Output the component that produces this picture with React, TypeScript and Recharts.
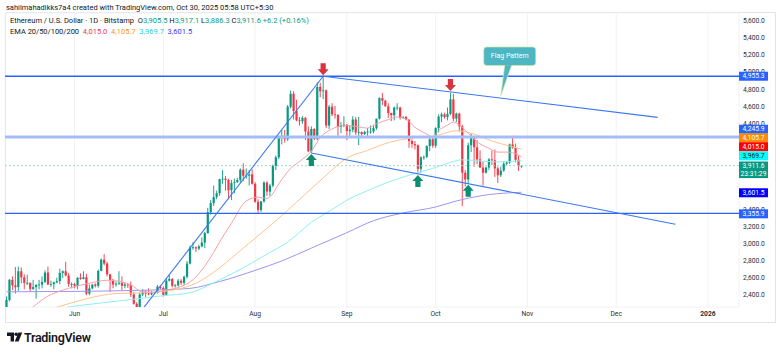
import React from 'react';
import { ComposedChart, Bar, Line, XAxis, YAxis, CartesianGrid, ReferenceLine, ReferenceDot } from 'recharts';

type Ohlc = [number, number, number, number];

// daily candles [open, high, low, close], ETH/USD Bitstamp
const may: Ohlc[] = [
  [2205, 2385, 2150, 2345], [2345, 2590, 2330, 2580], [2580, 2620, 2460, 2515], [2515, 2730, 2420, 2495],
  [2495, 2735, 2450, 2680], [2680, 2725, 2540, 2610], [2610, 2645, 2470, 2545], [2545, 2640, 2520, 2545],
  [2545, 2550, 2440, 2475], [2475, 2580, 2460, 2495], [2495, 2530, 2360, 2520], [2520, 2580, 2470, 2525],
  [2525, 2620, 2480, 2555], [2555, 2690, 2545, 2665], [2665, 2735, 2520, 2525], [2525, 2570, 2500, 2530],
  [2530, 2560, 2470, 2550], [2550, 2605, 2540, 2565], [2565, 2710, 2530, 2660], [2660, 2690, 2600, 2680],
  [2680, 2790, 2620, 2630], [2630, 2660, 2500, 2530], [2530, 2550, 2480, 2530],
];
const jun: Ohlc[] = [
  [2530, 2545, 2480, 2510], [2510, 2610, 2470, 2605], [2605, 2655, 2580, 2590], [2590, 2680, 2585, 2610],
  [2610, 2650, 2400, 2420], [2420, 2525, 2400, 2480], [2480, 2530, 2470, 2525], [2525, 2540, 2490, 2510],
  [2510, 2700, 2490, 2685], [2685, 2830, 2680, 2815], [2815, 2880, 2750, 2770], [2770, 2790, 2620, 2645],
  [2645, 2650, 2440, 2580], [2580, 2590, 2480, 2525], [2525, 2560, 2500, 2535], [2535, 2680, 2520, 2545],
  [2545, 2620, 2460, 2510], [2510, 2550, 2480, 2525], [2525, 2540, 2485, 2520], [2520, 2560, 2380, 2410],
  [2410, 2440, 2290, 2300], [2300, 2320, 2110, 2230], [2230, 2430, 2210, 2410], [2410, 2470, 2390, 2440],
  [2440, 2460, 2380, 2420], [2420, 2480, 2400, 2410], [2410, 2450, 2400, 2425], [2425, 2440, 2410, 2435],
  [2435, 2520, 2420, 2500], [2500, 2520, 2470, 2485],
];
const jul: Ohlc[] = [
  [2485, 2505, 2385, 2405], [2405, 2600, 2395, 2570], [2570, 2640, 2560, 2590], [2590, 2600, 2490, 2510],
  [2510, 2530, 2490, 2515], [2515, 2590, 2500, 2570], [2570, 2590, 2520, 2545], [2545, 2630, 2520, 2615],
  [2615, 2800, 2595, 2770], [2770, 2980, 2760, 2955], [2955, 3020, 2930, 2960], [2960, 2970, 2905, 2945],
  [2945, 2990, 2925, 2970], [2970, 3075, 2960, 3015], [3015, 3140, 2950, 3125], [3125, 3420, 3120, 3370],
  [3370, 3510, 3340, 3475], [3475, 3680, 3440, 3545], [3545, 3620, 3520, 3590], [3590, 3760, 3560, 3755],
  [3755, 3860, 3700, 3760], [3760, 3790, 3620, 3745], [3745, 3760, 3520, 3625], [3625, 3745, 3510, 3710],
  [3710, 3760, 3590, 3720], [3720, 3770, 3710, 3745], [3745, 3880, 3710, 3865], [3865, 3940, 3730, 3795],
  [3795, 3880, 3760, 3795], [3795, 3860, 3680, 3810], [3810, 3870, 3690, 3700],
];
const aug: Ohlc[] = [
  [3700, 3720, 3480, 3490], [3490, 3520, 3355, 3395], [3395, 3500, 3370, 3495], [3495, 3730, 3480, 3715],
  [3715, 3730, 3560, 3610], [3610, 3700, 3560, 3680], [3680, 3925, 3660, 3910], [3910, 4030, 3860, 4010],
  [4010, 4260, 3990, 4255], [4255, 4330, 4160, 4260], [4260, 4330, 4180, 4220], [4220, 4620, 4200, 4600],
  [4600, 4790, 4580, 4750], [4750, 4780, 4450, 4550], [4550, 4680, 4430, 4440], [4440, 4480, 4380, 4430],
  [4430, 4490, 4400, 4470], [4470, 4480, 4210, 4310], [4310, 4370, 4070, 4080], [4080, 4370, 4060, 4340],
  [4340, 4350, 4210, 4225], [4225, 4885, 4210, 4830], [4830, 4880, 4710, 4780], [4780, 4955, 4690, 4790],
  [4790, 4800, 4350, 4380], [4380, 4620, 4340, 4600], [4600, 4640, 4490, 4510], [4510, 4610, 4460, 4505],
  [4505, 4510, 4260, 4365], [4365, 4420, 4290, 4375], [4375, 4490, 4360, 4390],
];
const sep: Ohlc[] = [
  [4390, 4400, 4210, 4315], [4315, 4380, 4260, 4330], [4330, 4490, 4300, 4450], [4450, 4480, 4270, 4300],
  [4300, 4480, 4150, 4305], [4305, 4310, 4260, 4280], [4280, 4320, 4270, 4305], [4305, 4350, 4250, 4310],
  [4310, 4380, 4285, 4310], [4310, 4390, 4290, 4350], [4350, 4460, 4330, 4460], [4460, 4710, 4450, 4700],
  [4700, 4760, 4620, 4670], [4670, 4680, 4600, 4605], [4605, 4640, 4470, 4525], [4525, 4530, 4430, 4500],
  [4500, 4600, 4440, 4590], [4590, 4640, 4560, 4590], [4590, 4600, 4450, 4470], [4470, 4490, 4460, 4480],
  [4480, 4490, 4440, 4450], [4450, 4450, 4120, 4200], [4200, 4220, 4120, 4165], [4165, 4200, 4100, 4150],
  [4150, 4160, 3820, 3875], [3875, 4020, 3830, 4010], [4010, 4030, 3980, 4015], [4015, 4150, 4000, 4140],
  [4140, 4240, 4080, 4220], [4220, 4240, 4120, 4145],
];
const oct: Ohlc[] = [
  [4145, 4360, 4120, 4350], [4350, 4510, 4300, 4485], [4485, 4530, 4420, 4510], [4510, 4530, 4460, 4480],
  [4480, 4590, 4440, 4515], [4515, 4760, 4500, 4685], [4685, 4750, 4430, 4460], [4460, 4530, 4420, 4520],
  [4520, 4530, 4310, 4370], [4370, 4390, 3440, 3830], [3830, 3860, 3670, 3750], [3750, 4180, 3700, 4150],
  [4150, 4290, 4070, 4245], [4245, 4250, 3900, 4125], [4125, 4210, 3930, 3985], [3985, 4090, 3890, 3890],
  [3890, 3960, 3680, 3830], [3830, 3900, 3820, 3890], [3890, 4000, 3860, 3985], [3985, 4090, 3920, 3975],
  [3975, 4100, 3780, 3880], [3880, 3900, 3710, 3800], [3800, 3900, 3780, 3855], [3855, 3960, 3840, 3935],
  [3935, 3960, 3910, 3950], [3950, 4170, 3930, 4160], [4160, 4260, 4110, 4120], [4120, 4170, 3950, 3980],
  [3980, 4030, 3850, 3905], [3905.5, 3917.1, 3886.3, 3911.6],
];

// EMA values at a few dates
const ema20Pts: [string, number][] = [
  ['05-12', 2080], ['05-18', 2265], ['05-23', 2390], ['05-28', 2460], ['06-01', 2500], ['06-06', 2540],
  ['06-12', 2575], ['06-17', 2555], ['06-20', 2520], ['06-24', 2440], ['06-28', 2435], ['07-02', 2460],
  ['07-06', 2490], ['07-11', 2580], ['07-15', 2740], ['07-18', 2900], ['07-21', 3080], ['07-24', 3240],
  ['07-29', 3500], ['08-02', 3545], ['08-05', 3530], ['08-10', 3750], ['08-13', 3880], ['08-16', 3960],
  ['08-20', 4080], ['08-23', 4240], ['08-27', 4340], ['08-31', 4380], ['09-04', 4370], ['09-08', 4350],
  ['09-11', 4400], ['09-15', 4450], ['09-18', 4480], ['09-21', 4455], ['09-24', 4360], ['09-28', 4280],
  ['09-30', 4245], ['10-02', 4320], ['10-05', 4385], ['10-07', 4420], ['10-09', 4385], ['10-12', 4290],
  ['10-15', 4190], ['10-19', 4115], ['10-22', 4070], ['10-25', 4070], ['10-29', 4035], ['10-30', 4015.0],
];
const ema50Pts: [string, number][] = [
  ['05-09', 2050], ['05-18', 2180], ['05-27', 2270], ['06-05', 2360], ['06-15', 2420], ['06-25', 2430],
  ['07-05', 2465], ['07-12', 2540], ['07-20', 2720], ['07-28', 2950], ['08-05', 3180], ['08-12', 3390],
  ['08-18', 3580], ['08-25', 3800], ['09-01', 4000], ['09-08', 4090], ['09-15', 4180], ['09-22', 4230],
  ['10-01', 4260], ['10-08', 4320], ['10-14', 4280], ['10-20', 4200], ['10-25', 4150], ['10-30', 4105.7],
];
const ema100Pts: [string, number][] = [
  ['05-20', 2200], ['05-30', 2263], ['06-10', 2310], ['06-20', 2350], ['07-01', 2395], ['07-10', 2430],
  ['07-20', 2580], ['07-28', 2720], ['08-05', 2880], ['08-12', 3020], ['08-20', 3250], ['08-27', 3400],
  ['09-01', 3510], ['09-08', 3620], ['09-15', 3720], ['09-22', 3800], ['09-30', 3880], ['10-06', 3950],
  ['10-10', 3980], ['10-15', 3970], ['10-22', 3955], ['10-30', 3969.7],
];
const ema200Pts: [string, number][] = [
  ['05-09', 2440], ['06-01', 2445], ['06-20', 2455], ['07-01', 2465], ['07-10', 2480], ['07-20', 2560],
  ['08-01', 2690], ['08-10', 2800], ['08-20', 2950], ['09-01', 3130], ['09-10', 3270], ['09-20', 3360],
  ['10-01', 3430], ['10-08', 3500], ['10-17', 3565], ['10-26', 3595], ['10-30', 3601.5],
];

const monthTicks = ['06-01', '07-01', '08-01', '09-01', '10-01', '11-01', '12-01', '2026-01-01'];
const monthLabels = ['Jun', 'Jul', 'Aug', 'Sep', 'Oct', 'Nov', 'Dec', '2026'];
const gridPrices = [2400, 2600, 2800, 3000, 3200, 3400, 3600, 3800, 4000, 4200, 4400, 4600, 4800, 5000, 5200, 5400, 5600];
// price labels the tags leave (partly) visible
const priceLabels = [2400, 2600, 2800, 3000, 3200, 3400, 4400, 4600, 4800, 5000, 5200, 5400, 5600];

const resistance = 4955.3;
const midLevel = 4245.9;
const support = 3355.9;
const lastPrice = 3911.6;
const emaLast = [4015.0, 4105.7, 3969.7, 3601.5];

// drawings: rising trendline, flag upper / lower line
const risingLine: [string, number][] = [['06-22', 2150], ['08-24', 4955.3]];
const flagTop: [string, number][] = [['08-24', 4955.3], ['12-15', 4475]];
const flagBottom: [string, number][] = [['08-20', 4060], ['12-21', 3228]];
const peakMarks: [string, number][] = [['08-24', 4955.3], ['10-06', 4772]];
const lowMarks: [string, number][] = [['08-20', 4060], ['09-25', 3816], ['10-12', 3702]];
const calloutAt: [string, number] = ['10-23', 4725];

const START = Date.UTC(2025, 4, 9);
const DAYS = 248;
const idx = (d: string) =>
  Math.round((Date.parse(d.length === 5 ? `2025-${d}T00:00:00Z` : `${d}T00:00:00Z`) - START) / 864e5);

const candles = [...may, ...jun, ...jul, ...aug, ...sep, ...oct];
const toMap = (pts: [string, number][]) => new Map(pts.map(([d, v]) => [idx(d), v]));
const m20 = toMap(ema20Pts);
const m50 = toMap(ema50Pts);
const m100 = toMap(ema100Pts);
const m200 = toMap(ema200Pts);

const rows = Array.from({ length: DAYS }, (_, i) => {
  const k = candles[i];
  return {
    i,
    range: k ? [k[2], k[1]] : null,
    o: k ? k[0] : null,
    h: k ? k[1] : null,
    l: k ? k[2] : null,
    c: k ? k[3] : null,
    e20: m20.get(i) ?? null,
    e50: m50.get(i) ?? null,
    e100: m100.get(i) ?? null,
    e200: m200.get(i) ?? null,
  };
});

const UP = '#089981';
const DOWN = '#f23645';
const FONT = 'Roboto, "Noto Sans", sans-serif';
const AXIS_TXT = '#2a2e39';

const Candle = (props: any) => {
  const { x, y, width, height, payload } = props;
  if (!payload || payload.o == null || !isFinite(y)) return null;
  const { o, h, l, c } = payload;
  const color = c >= o ? UP : DOWN;
  const k = h === l ? 0 : height / (h - l);
  const cx = x + width / 2;
  const top = y + (h - Math.max(o, c)) * k;
  const bot = y + (h - Math.min(o, c)) * k;
  return (
    <g>
      <line x1={cx} x2={cx} y1={y} y2={y + height} stroke={color} strokeWidth={0.9} />
      <rect x={cx - 1.1} y={top} width={2.2} height={Math.max(bot - top, 0.8)} fill={color} />
    </g>
  );
};

const AxisText = (props: any) => {
  const { viewBox, text } = props;
  if (!viewBox) return null;
  return (
    <text x={viewBox.x + viewBox.width + 4} y={viewBox.y} dominantBaseline="central" fontFamily={FONT}
      fontSize={6.7} fill={AXIS_TXT}>
      {text}
    </text>
  );
};

const Tag = (props: any) => {
  const { viewBox, text, sub, bg, color = '#fff', dy = 0 } = props;
  if (!viewBox) return null;
  const x = viewBox.x + viewBox.width;
  const y = viewBox.y + dy;
  const h = sub ? 16.6 : 9;
  return (
    <g fontFamily={FONT} fontSize={6.7}>
      <rect x={x} y={y - 4.5} width={29} height={h} fill={bg} />
      <text x={x + 14.5} y={y + 0.2} textAnchor="middle" dominantBaseline="central" fill={color}>{text}</text>
      {sub && (
        <text x={x + 14.5} y={y + 8.2} textAnchor="middle" dominantBaseline="central" fill={color}>{sub}</text>
      )}
    </g>
  );
};

const DownArrow = (props: any) => {
  const { cx, cy } = props;
  const t = cy - 1;
  return (
    <path
      d={`M${cx - 2.6},${t - 12} L${cx + 2.6},${t - 12} L${cx + 2.6},${t - 6} L${cx + 5.5},${t - 6} L${cx},${t} L${cx - 5.5},${t - 6} L${cx - 2.6},${t - 6} Z`}
      fill="#d9333f"
    />
  );
};

const UpArrow = (props: any) => {
  const { cx, cy } = props;
  const t = cy + 1;
  return (
    <path
      d={`M${cx - 2.6},${t + 12} L${cx + 2.6},${t + 12} L${cx + 2.6},${t + 6} L${cx + 5.5},${t + 6} L${cx},${t} L${cx - 5.5},${t + 6} L${cx - 2.6},${t + 6} Z`}
      fill="#0a8f74"
    />
  );
};

const Callout = (props: any) => {
  const { cx, cy } = props;
  return (
    <g fontFamily={FONT}>
      <path d={`M${cx + 4},${cy - 31} L${cx + 11},${cy - 31} L${cx},${cy} Z`} fill="#4cb6c2" stroke="#d4e9a6" strokeWidth={0.7} />
      <rect x={cx - 17} y={cy - 49} width={52} height={18.5} rx={3} fill="#4cb6c2" stroke="#d4e9a6" strokeWidth={0.7} />
      <rect x={cx + 4.4} y={cy - 31.6} width={6.2} height={1.4} fill="#4cb6c2" />
      <text x={cx + 9} y={cy - 39.7} textAnchor="middle" dominantBaseline="central" fontSize={7} fill="#fff">Flag Pattern</text>
    </g>
  );
};

const MonthTick = (props: any) => {
  const { x, y, payload } = props;
  const n = monthTicks.map(idx).indexOf(payload.value);
  const label = monthLabels[n] ?? '';
  return (
    <text x={x} y={y + 7} textAnchor="middle" dominantBaseline="central" fontFamily={FONT} fontSize={6.7}
      fontWeight={label === '2026' ? 700 : 400} fill={AXIS_TXT}>
      {label}
    </text>
  );
};

const fmt = (v: number) => v.toLocaleString('en-US', { minimumFractionDigits: 1, maximumFractionDigits: 1 });
const seg = (s: [string, number][]) => s.map(([d, v]) => ({ x: idx(d), y: v }));

export default function App() {
  const dark = '#131722';
  const textLine: React.CSSProperties = { position: 'absolute', fontSize: 7.5, color: dark, whiteSpace: 'nowrap', lineHeight: '10px' };
  return (
    <div style={{ position: 'absolute', left: 0, top: 0, width: 780, height: 354, background: '#fff', fontFamily: FONT, overflow: 'hidden' }}>
      <div style={{ position: 'absolute', left: 5, top: 12, width: 769, height: 309, border: '1px solid #e0e3eb' }} />
      <ComposedChart
        width={780}
        height={354}
        data={rows}
        margin={{ top: 13, right: 5, bottom: 32, left: 5 }}
        barCategoryGap={0}
        barGap={0}
        style={{ position: 'absolute', left: 0, top: 0 }}
      >
        <CartesianGrid stroke="#f0f2f6" strokeWidth={1} />
        <XAxis
          dataKey="i"
          ticks={monthTicks.map(idx)}
          interval={0}
          tick={<MonthTick />}
          axisLine={false}
          tickLine={false}
          tickSize={0}
          tickMargin={0}
          height={15}
        />
        <YAxis
          orientation="right"
          type="number"
          domain={[2263, 5693]}
          allowDataOverflow
          ticks={gridPrices}
          tick={false}
          axisLine={false}
          tickLine={false}
          width={36}
        />
        <Bar dataKey="range" shape={<Candle />} isAnimationActive={false} />
        <Line type="monotone" dataKey="e200" stroke="#9c95f2" strokeWidth={1} dot={false} activeDot={false} connectNulls isAnimationActive={false} />
        <Line type="monotone" dataKey="e100" stroke="#8ef0f0" strokeWidth={1} dot={false} activeDot={false} connectNulls isAnimationActive={false} />
        <Line type="monotone" dataKey="e50" stroke="#ffc48f" strokeWidth={1} dot={false} activeDot={false} connectNulls isAnimationActive={false} />
        <Line type="monotone" dataKey="e20" stroke="#f7a0a6" strokeWidth={1} dot={false} activeDot={false} connectNulls isAnimationActive={false} />

        {priceLabels.map((v) => (
          <ReferenceLine key={`t${v}`} y={v} stroke="none" label={<AxisText text={fmt(v)} />} />
        ))}

        <ReferenceLine y={lastPrice} stroke="#9fd8cb" strokeDasharray="2 2" strokeWidth={1}
          label={<Tag text={fmt(lastPrice)} sub="23:31:29" bg={UP} dy={0.3} />} />
        <ReferenceLine y={midLevel} stroke="#a4bdfa" strokeWidth={3}
          label={<Tag text={fmt(midLevel)} bg="#2962ff" dy={-7.8} />} />
        <ReferenceLine y={resistance} stroke="#2962ff" strokeWidth={1.3}
          label={<Tag text={fmt(resistance)} bg="#2962ff" dy={0} />} />
        <ReferenceLine y={support} stroke="#2962ff" strokeWidth={1.3}
          label={<Tag text={fmt(support)} bg="#2962ff" dy={0.5} />} />
        <ReferenceLine y={emaLast[1]} stroke="none" label={<Tag text={fmt(emaLast[1])} bg="#ff8a00" dy={-11.2} />} />
        <ReferenceLine y={emaLast[0]} stroke="none" label={<Tag text={fmt(emaLast[0])} bg="#ff0000" dy={-10.1} />} />
        <ReferenceLine y={emaLast[2]} stroke="none" label={<Tag text={fmt(emaLast[2])} bg="#00ffff" color={dark} dy={-4.9} />} />
        <ReferenceLine y={emaLast[3]} stroke="none" label={<Tag text={fmt(emaLast[3])} bg="#0000ff" dy={0.5} />} />

        <ReferenceLine segment={seg(risingLine)} stroke="#3b78f0" strokeWidth={1.1} ifOverflow="hidden" />
        <ReferenceLine segment={seg(flagTop)} stroke="#3b78f0" strokeWidth={1.1} ifOverflow="hidden" />
        <ReferenceLine segment={seg(flagBottom)} stroke="#3b78f0" strokeWidth={1.1} ifOverflow="hidden" />

        {peakMarks.map(([d, v]) => (
          <ReferenceDot key={`p${d}`} x={idx(d)} y={v} r={0} shape={<DownArrow />} />
        ))}
        {lowMarks.map(([d, v]) => (
          <ReferenceDot key={`l${d}`} x={idx(d)} y={v} r={0} shape={<UpArrow />} />
        ))}
        <ReferenceDot x={idx(calloutAt[0])} y={calloutAt[1]} r={0} shape={<Callout />} />
      </ComposedChart>

      <div style={{ ...textLine, left: 6, top: 2.5 }}>
        sahilmahadikks7a4 created with TradingView.com, Oct 30, 2025 05:58 UTC+5:30
      </div>
      <div style={{ ...textLine, left: 10, top: 16 }}>
        Ethereum / U.S. Dollar · 1D · Bitstamp&nbsp;&nbsp;O<span style={{ color: UP }}>3,905.5</span>
        &nbsp;H<span style={{ color: UP }}>3,917.1</span>
        &nbsp;L<span style={{ color: UP }}>3,886.3</span>
        &nbsp;C<span style={{ color: UP }}>3,911.6</span>
        <span style={{ color: UP }}>&nbsp;+6.2 (+0.16%)</span>
      </div>
      <div style={{ ...textLine, left: 10, top: 27 }}>
        EMA 20/50/100/200&nbsp;&nbsp;<span style={{ color: '#f23645' }}>4,015.0</span>
        &nbsp;&nbsp;<span style={{ color: '#ff9800' }}>4,105.7</span>
        &nbsp;&nbsp;<span style={{ color: '#22d3e6' }}>3,969.7</span>
        &nbsp;&nbsp;<span style={{ color: '#2f3cf0' }}>3,601.5</span>
      </div>

      <svg width={100} height={20} style={{ position: 'absolute', left: 0, top: 329 }}>
        <path d="M7,3.5 h7 v9 h-3.4 v-5.6 h-3.6 z" fill={dark} />
        <circle cx={16.2} cy={5.3} r={1.8} fill={dark} />
        <path d="M18.4,3.5 h3.8 l-3.6,9 h-3.8 z" fill={dark} />
        <text x={24} y={8.5} dominantBaseline="central" fontFamily={FONT} fontSize={12.5} fontWeight={600} fill={dark} letterSpacing={-0.3}>
          TradingView
        </text>
      </svg>
    </div>
  );
}
